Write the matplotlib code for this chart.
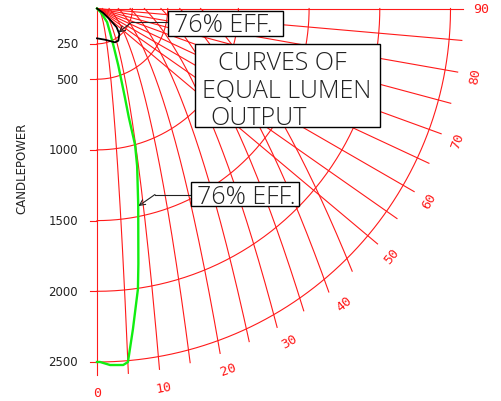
import numpy as np
import matplotlib.pyplot as plt
from matplotlib.patches import Rectangle

# candlepower rings and angle grid
rings = [250, 500, 1000, 1500, 2000, 2500]
ring_labels = ['250', '500', '1000', '1500', '2000', '2500']
curve_deg = [5, 10, 15, 20, 25, 30, 35, 40, 45]        # equal-lumen curves
radial_deg = [0, 50, 55, 60, 65, 70, 75, 80, 85, 90]   # straight rays
angle_labels = [0, 10, 20, 30, 40, 50, 60, 70, 80, 90]

# floodlight distribution (green), degrees from beam axis / candlepower
green_deg = [0, 0.5, 2.1, 4.2, 5.0, 6.4, 8.3, 9.2, 11.9, 14.3, 15.6, 16.3, 17.5, 20.5, 23.5, 28.6, 36.5, 45, 45]
green_cp = [2500, 2500, 2523, 2528, 2510, 2281, 2005, 1830, 1413, 1149, 1000, 800, 650, 430, 300, 192, 120, 40, 0]

# wide distribution (black)
black_deg = [0, 14.4, 28, 33.5, 41.2, 46.3, 49.3, 54.5, 60]
black_cp = [211, 228, 271, 273, 240, 192, 121, 55, 0]

S = 0.1414        # pixels per candle
OX, OY = 97, 9.5  # pixel position of the light source

fig = plt.figure(figsize=(5.01, 4.02), dpi=100)
ax = fig.add_axes([0, 0, 1, 1])
ax.set_xlim(-OX / S, (501 - OX) / S)
ax.set_ylim(-(402 - OY) / S, OY / S)
ax.axis('off')


def pol(cp, deg):
    t = np.radians(deg)
    return np.asarray(cp) * np.sin(t), -np.asarray(cp) * np.cos(t)


def px(x, y):
    return (x - OX) / S, -(y - OY) / S


red = '#ff1a1a'
ink = '#222222'

# rings + left ticks
th = np.linspace(0, 90, 200)
for r in rings:
    x, y = pol(np.full_like(th, r), th)
    ax.plot(x, y, color=red, lw=0.8)
    ax.plot([-7 / S, 0], [-r, -r], color=red, lw=0.8)

r_end = 2590
for d in radial_deg:
    x, y = pol([0, r_end], [d, d])
    ax.plot(x, y, color=red, lw=0.8)

# I * (1 - cos a) = const, through 2500 cd at the marked angle
for d in curve_deg:
    c = 2500 * (1 - np.cos(np.radians(d)))
    a0 = np.degrees(np.arccos(1 - c / r_end))
    a = np.linspace(a0, 90, 300)
    x, y = pol(c / (1 - np.cos(np.radians(a))), a)
    ax.plot(x, y, color=red, lw=0.8)

# angle labels
for d in angle_labels:
    x, y = pol(2716, d)
    ax.text(x, y, str(d), color=red, fontsize=9.5, ha='center', va='center',
            rotation=d if d < 90 else 0, family='DejaVu Sans Mono')

# candlepower labels
for r, lab in zip(rings, ring_labels):
    ax.text(-19 / S, -r, lab, fontsize=8.5, ha='right', va='center', color=ink)
ax.text(*px(22, 168), 'CANDLEPOWER', rotation=90, fontsize=8.5, ha='center',
        va='center', color=ink)

# distributions
x, y = pol(green_cp, green_deg)
ax.plot(x, y, color='#11ee11', lw=1.7, solid_joinstyle='round')
x, y = pol(black_cp, black_deg)
ax.plot(x, y, color='black', lw=1.3)


def box(x0, y0, x1, y1):
    (a, b), (c, d) = px(x0, y1), px(x1, y0)
    ax.add_patch(Rectangle((a, b), c - a, d - b, fc='white', ec='black', lw=1.0, zorder=3))


tfont = dict(family='Open Sans', fontweight='light', color=ink, fontsize=18,
             ha='center', va='baseline', zorder=4)
box(168, 12, 283, 37)
ax.text(*px(223.5, 31.5), '76% EFF.', **tfont)
box(191, 183, 299, 207)
ax.text(*px(246, 204), '76% EFF.', **tfont)
box(195, 45, 380, 128)
ax.text(*px(282, 70), 'CURVES OF', **tfont)
ax.text(*px(286.5, 98), 'EQUAL LUMEN', **tfont)
ax.text(*px(259, 125), 'OUTPUT', **tfont)

# leaders
ax.plot(*zip(px(167, 23), px(132, 23)), color=ink, lw=0.8)
ax.annotate('', xy=px(118.5, 33.5), xytext=px(132, 23),
            arrowprops=dict(arrowstyle='->', color=ink, lw=0.8, shrinkA=0, shrinkB=0))
ax.plot(*zip(px(190, 195.5), px(155, 195.5)), color=ink, lw=0.8)
ax.annotate('', xy=px(138.5, 207), xytext=px(155, 195.5),
            arrowprops=dict(arrowstyle='->', color=ink, lw=0.8, shrinkA=0, shrinkB=0))

fig.savefig('out.png', dpi=100)
